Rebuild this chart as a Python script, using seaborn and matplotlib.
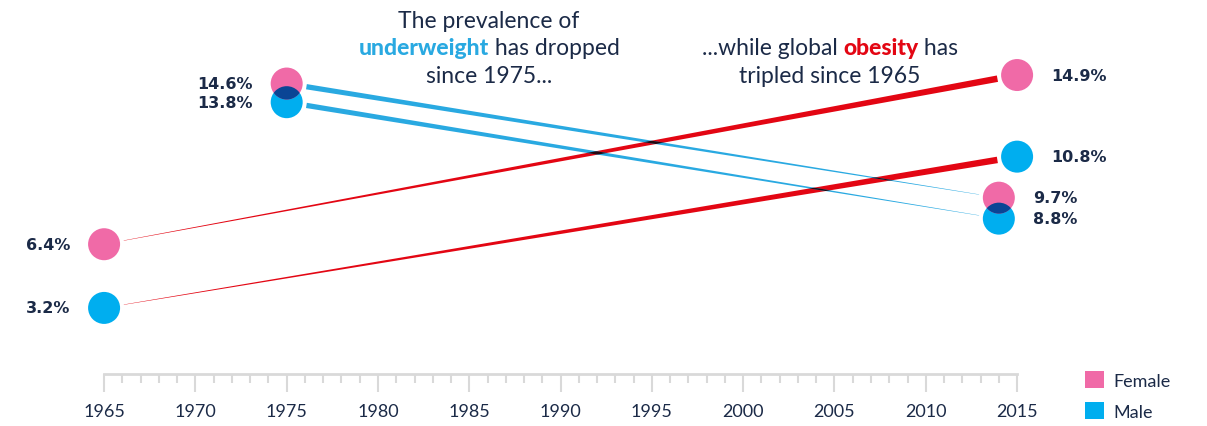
import numpy as np
import pandas as pd
import matplotlib
matplotlib.use("Agg")
import matplotlib.pyplot as plt
import matplotlib.transforms as mtransforms
from matplotlib.patches import Circle, Polygon, Patch
from matplotlib.ticker import FixedLocator
import seaborn as sns

# data
obesity_years = [1965, 2015]
obesity_female = [6.4, 14.9]
obesity_male = [3.2, 10.8]

underweight_years = [1975, 2014]
underweight_female = [14.6, 9.7]
underweight_male = [13.8, 8.8]

major_years = list(range(1965, 2016, 5))
minor_years = list(range(1965, 2016))

PINK = "#f06aa7"
BLUE = "#00aeef"
RED = "#e30613"
LIGHT_BLUE = "#29a9e1"
OVERLAP = "#0a4595"
CROSS = "#26080f"
NAVY = "#1b2a47"
GREY = "#d9d9d9"

W, H = 1207, 427
R_PX = 16  # marker radius in pixels

sns.set_theme(style="white")
plt.rcParams["font.family"] = ["Lato", "DejaVu Sans"]

fig = plt.figure(figsize=(W / 100, H / 100), dpi=100)
ax = fig.add_axes([0, 52 / H, 1, 375 / H])
ax2 = ax.twinx()

ax.set_xlim(1959.3, 2025.4)
ax.set_ylim(-0.12, 18.72)    # obesity scale
ax2.set_ylim(2.13, 18.23)    # underweight scale


def long_df(years, female, male):
    rows = []
    for y, v in zip(years, male):
        rows.append({"year": y, "value": v, "sex": "Male"})
    for y, v in zip(years, female):
        rows.append({"year": y, "value": v, "sex": "Female"})
    return pd.DataFrame(rows)


def taper(axis, xs, ys, w0, w1, color, z, gap=20):
    p0 = axis.transData.transform((xs[0], ys[0]))
    p1 = axis.transData.transform((xs[1], ys[1]))
    d = p1 - p0
    u = d / np.hypot(*d)
    n = np.array([-u[1], u[0]])
    a = p0 + u * gap
    b = p1 - u * gap
    verts = [a + n * w0 / 2, b + n * w1 / 2, b - n * w1 / 2, a - n * w0 / 2]
    poly = Polygon(verts, closed=True, facecolor=color, edgecolor="none",
                   transform=mtransforms.IdentityTransform(), zorder=z)
    axis.add_artist(poly)
    return poly


def circle_at(axis, x, y, **kw):
    tr = fig.dpi_scale_trans + mtransforms.ScaledTranslation(x, y, axis.transData)
    return Circle((0, 0), R_PX / 100, transform=tr, **kw)


# tapered lines
ob_f = taper(ax, obesity_years, obesity_female, 0.3, 6.5, RED, 2)
ob_m = taper(ax, obesity_years, obesity_male, 0.3, 6.5, RED, 2)
uw_f = taper(ax2, underweight_years, underweight_female, 5.3, 0.3, LIGHT_BLUE, 1.5)
uw_m = taper(ax2, underweight_years, underweight_male, 5.3, 0.3, LIGHT_BLUE, 1.5)

# darker where lines cross (multiply look)
for blue_line in (uw_f, uw_m):
    for red_line in (ob_f, ob_m):
        dark = Polygon(blue_line.get_xy(), closed=True, facecolor=CROSS,
                       edgecolor="none",
                       transform=mtransforms.IdentityTransform(), zorder=2.5)
        dark.set_clip_path(red_line)
        ax2.add_artist(dark)

# markers
palette = {"Female": PINK, "Male": BLUE}
s = (2 * R_PX * 0.72) ** 2
sns.scatterplot(data=long_df(obesity_years, obesity_female, obesity_male),
                x="year", y="value", hue="sex", palette=palette, s=s,
                linewidth=0, legend=False, ax=ax, zorder=3)
sns.scatterplot(data=long_df(underweight_years, underweight_female, underweight_male),
                x="year", y="value", hue="sex", palette=palette, s=s,
                linewidth=0, legend=False, ax=ax2, zorder=3)

# overlap of female and male circles
for axis, years, fem, mal in [(ax2, underweight_years, underweight_female, underweight_male),
                              (ax, obesity_years, obesity_female, obesity_male)]:
    for yr, vf, vm in zip(years, fem, mal):
        clip = circle_at(axis, yr, vf)
        ov = circle_at(axis, yr, vm, facecolor=OVERLAP, edgecolor="none", zorder=4)
        axis.add_artist(ov)
        ov.set_clip_path(clip)

# percentage labels
label_kw = dict(textcoords="offset pixels", va="center", color=NAVY,
                fontsize=11.5, fontweight="bold", family="DejaVu Sans")
for axis, years, series in [(ax, obesity_years, obesity_female),
                            (ax, obesity_years, obesity_male),
                            (ax2, underweight_years, underweight_female),
                            (ax2, underweight_years, underweight_male)]:
    axis.annotate(f"{series[0]}%", (years[0], series[0]), xytext=(-34, 0),
                  ha="right", **label_kw)
    axis.annotate(f"{series[1]}%", (years[1], series[1]), xytext=(34, 0),
                  ha="left", **label_kw)

# x axis as a ruler
for a in (ax, ax2):
    for sp in ("top", "left", "right"):
        a.spines[sp].set_visible(False)
    a.set_yticks([])
    a.set_ylabel("")
ax2.spines["bottom"].set_visible(False)
ax.set_xlabel("")
ax.spines["bottom"].set_bounds(1965, 2015)
ax.spines["bottom"].set_color(GREY)
ax.spines["bottom"].set_linewidth(2)
ax.xaxis.set_major_locator(FixedLocator(major_years))
ax.xaxis.set_minor_locator(FixedLocator(minor_years))
ax.tick_params(axis="x", which="major", direction="out", length=13, width=1.5,
               color=GREY, labelcolor=NAVY, labelsize=13, pad=8, bottom=True)
ax.tick_params(axis="x", which="minor", direction="out", length=6.5, width=1.5,
               color=GREY, bottom=True)


# annotation text with mixed styles
def rich_line(cx, base_y, pieces, size=16.5):
    r = fig.canvas.get_renderer()
    widths = []
    for txt, col, wt in pieces:
        probe = fig.text(0, 0, "x" + txt + "x", fontsize=size, fontweight=wt)
        ref = fig.text(0, 0, "xx", fontsize=size, fontweight=wt)
        widths.append(probe.get_window_extent(r).width - ref.get_window_extent(r).width)
        probe.remove()
        ref.remove()
    x = cx - sum(widths) / 2
    for (txt, col, wt), w in zip(pieces, widths):
        fig.text(x / W, 1 - base_y / H, txt, fontsize=size, fontweight=wt,
                 color=col, ha="left", va="baseline")
        x += w


rich_line(489, 28, [("The prevalence of", NAVY, "normal")])
rich_line(489, 55, [("underweight", LIGHT_BLUE, "black"),
                    (" has dropped", NAVY, "normal")])
rich_line(489, 83, [("since 1975...", NAVY, "normal")])
rich_line(830, 55, [("...while global ", NAVY, "normal"),
                    ("obesity", RED, "black"),
                    (" has", NAVY, "normal")])
rich_line(830, 83, [("tripled since 1965", NAVY, "normal")])

# legend
handles = [Patch(facecolor=PINK, edgecolor="none", label="Female"),
           Patch(facecolor=BLUE, edgecolor="none", label="Male")]
ax.legend(handles=handles, loc="upper left", bbox_to_anchor=(1085 / W, 1 - 372 / H),
          bbox_transform=fig.transFigure, frameon=False, fontsize=13,
          handlelength=1.05, handleheight=1.05, handletextpad=0.5,
          labelspacing=0.75, borderpad=0, borderaxespad=0, labelcolor=NAVY)

fig.savefig("out.png", dpi=100)
